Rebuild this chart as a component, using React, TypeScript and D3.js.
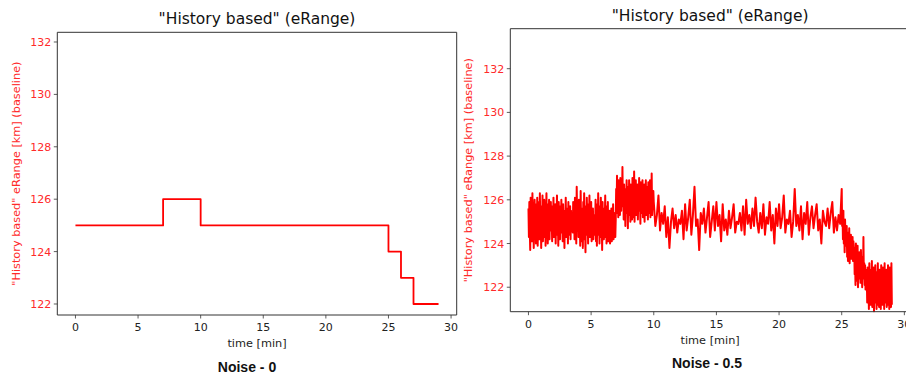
import React from "react";
import * as d3 from "d3";

// ---------- data ----------
const titleText = '"History based" (eRange)';
const yLabelText = '"History based" eRange [km] (baseline)';
const xLabelText = "time [min]";
const captions = ["Noise - 0", "Noise - 0.5"];
const xTicks = [0, 5, 10, 15, 20, 25, 30];
const yTicks = [122, 124, 126, 128, 130, 132];

// step series (noise 0)
const stepTimes = [0, 7, 10, 25, 26, 27, 29];
const stepValues = [125, 126, 125, 124, 123, 122, 122];

// noisy series (noise 0.5), segments [start, end] with hand-read values
const segA = [
  125.6, 124.3, 125.9, 124.6, 123.7, 126.1, 124.9, 125.3, 124.1, 126.3,
  124.5, 125.7, 123.8, 125.2, 126.0, 124.4, 125.5, 124.0, 125.8, 124.7,
  126.1, 123.9, 125.1, 124.6, 125.9, 124.2, 126.3, 124.8, 125.4, 123.8,
  125.7, 124.5, 126.2, 124.1, 125.3, 124.9, 126.0, 124.3, 125.6, 123.9,
  125.1, 126.3, 124.4, 125.8, 124.0, 125.4, 124.7, 126.0, 124.2, 125.5,
  124.8, 125.9, 124.6, 125.2, 124.1, 125.7, 124.5, 126.1, 124.3, 125.0,
  124.7, 125.8, 124.0, 125.6, 124.9, 126.2, 124.4, 125.3, 123.9, 125.9,
  124.6, 125.1, 124.2, 125.7, 124.8, 126.0, 124.5, 125.4, 124.1, 125.8,
  124.9, 125.5, 123.8, 125.2, 124.6, 126.1, 124.3, 125.6, 124.7, 125.3,
  124.0, 125.9, 124.4, 125.0, 124.8, 125.7, 124.2, 125.5, 124.6, 125.2,
];
const segB = [
  125.2, 124.5, 125.9, 124.8, 125.5, 124.2, 126.1, 124.9, 125.4, 124.0,
  126.6, 125.1, 124.6, 125.8, 124.3, 126.0, 124.7, 125.3, 123.9, 126.4,
  124.8, 125.6, 124.1, 125.2, 123.8, 125.9, 124.5, 126.3, 124.2, 125.0,
  123.6, 125.7, 124.4, 126.1, 124.9, 125.3, 124.0, 125.8, 124.6, 126.2,
  124.3, 125.5, 124.8, 125.9, 124.1, 125.4, 124.7, 125.6, 124.2, 125.1,
  124.4, 125.3, 124.6, 126.0, 124.1, 125.5, 123.9, 125.8, 124.7, 126.3,
  124.4, 125.2, 124.0, 125.7, 124.8, 126.1, 124.3, 125.4, 123.7, 125.9,
  124.5, 125.0, 124.2, 125.6, 124.9, 126.2, 124.3, 125.3, 124.0, 125.7,
  124.6, 125.9, 124.1, 125.2, 124.4, 125.5, 124.0, 125.1, 124.3, 125.6,
  124.1, 125.3, 124.5, 125.8, 124.2, 125.0, 124.6, 125.4, 124.3, 125.1,
];
const segC = [
  126.5, 125.4, 127.1, 125.8, 126.6, 125.2, 126.9, 125.6, 126.3, 125.3,
  127.0, 126.1, 125.5, 126.8, 125.9, 127.5, 125.7, 126.4, 125.1, 126.7,
  125.8, 126.2, 124.8, 126.5, 125.4, 126.9, 125.6, 126.1, 124.7, 126.6,
  125.3, 126.9, 125.8, 126.3, 125.0, 126.7, 125.5, 126.2, 125.1, 127.0,
  125.7, 126.4, 125.2, 127.3, 125.0, 126.6, 125.6, 126.9, 125.3, 126.2,
  125.8, 126.7, 125.1, 126.4, 125.5, 127.0, 125.9, 126.3, 124.9, 126.8,
  125.4, 126.5, 125.7, 126.9, 125.2, 126.1, 125.6, 126.7, 125.0, 126.4,
  125.8, 126.9, 125.3, 126.2, 125.5, 126.6, 125.1, 126.8, 125.7, 126.3,
  125.4, 126.9, 125.2, 126.5, 125.6, 127.2, 125.3, 126.0, 125.8, 126.4,
];
const segD = [
  125.9, 124.8, 125.3, 126.2, 124.6, 125.4, 124.9, 125.7,
  124.3, 125.2, 123.8, 125.0, 125.6, 124.7, 125.3, 124.5,
  125.1, 124.9, 125.5, 124.2, 125.8, 124.6, 125.2, 126.0,
  124.4, 125.3, 126.6, 124.8, 125.1, 123.7, 125.4, 124.9,
  125.6, 124.5, 125.2, 125.9, 124.3, 125.0, 125.7, 124.6,
  125.9, 124.8, 125.3, 124.1, 125.8, 124.6, 125.1, 124.4,
  125.5, 124.7, 125.2, 125.8, 124.5, 125.0, 124.9, 125.4,
  124.6, 125.7, 124.4, 126.0, 124.9, 125.3, 124.7, 125.6,
  124.8, 126.1, 125.0, 124.5, 125.4, 124.7, 125.8, 124.4,
  125.2, 124.9, 125.9, 124.6, 125.3, 124.0, 125.6, 124.8,
  125.8, 124.7, 125.2, 126.2, 124.5, 125.1, 124.9, 125.5,
  124.3, 125.0, 126.5, 124.8, 125.3, 124.6, 125.7, 124.2,
  125.4, 124.9, 125.9, 124.4, 125.2, 125.7, 124.7, 125.3,
  125.8, 124.6, 125.1, 124.0, 125.5, 125.0, 124.8, 125.6,
  124.7, 125.4, 125.9, 124.5, 125.2, 124.6, 125.3, 124.9,
];
const segE = [
  126.5, 124.8, 125.2, 124.2, 125.5, 124.0, 124.9, 123.6, 125.1, 124.3,
  124.6, 123.9, 124.8, 123.4, 124.5, 123.2, 124.3, 123.7, 124.7, 123.1,
  124.2, 123.5, 124.4, 123.3, 124.0, 123.6, 124.3, 123.2, 124.1, 123.8,
];
const segF = [
  123.8, 122.6, 123.3, 122.1, 124.0, 122.8, 123.5, 122.3, 123.9, 122.0,
  123.2, 122.7, 123.6, 122.4, 123.1, 122.2, 123.7, 122.9, 123.4, 122.0,
  123.3, 122.5, 124.3, 122.4, 123.1, 122.1, 123.0, 121.9, 122.8, 122.3,
];
const segG = [
  122.6, 121.3, 122.9, 121.6, 122.2, 121.0, 123.1, 121.8, 122.5, 121.2,
  122.8, 121.5, 123.2, 121.1, 122.4, 121.7, 122.9, 120.9, 122.3, 121.6,
  123.0, 121.3, 122.7, 121.0, 122.2, 121.8, 123.1, 121.2, 122.5, 121.1,
  122.8, 121.4, 122.3, 121.0, 123.0, 121.7, 122.6, 121.2, 122.9, 121.5,
  122.1, 121.0, 123.1, 121.6, 122.4, 121.3, 122.8, 121.1, 122.2, 121.7,
  123.0, 121.2, 122.6, 121.0, 122.9, 121.4, 122.3, 121.1, 123.1, 121.2,
];
const segStarts = [0, 3.5, 7, 10, 25, 26, 27];
const segEnds = [3.5, 7, 10, 25, 26, 27, 29];
const segValues = [segA, segB, segC, segD, segE, segF, segG];

type Pt = { t: number; v: number };

function buildNoisy(): Pt[] {
  const pts: Pt[] = [];
  segValues.forEach((vals, s) => {
    const last = s === segValues.length - 1;
    const n = last ? vals.length - 1 : vals.length;
    vals.forEach((v, i) => {
      pts.push({ t: segStarts[s] + (i * (segEnds[s] - segStarts[s])) / n, v });
    });
  });
  return pts;
}

const RED = "#ff0000";
const TICKRED = "#ff2a2a";
const FONT = "DejaVu Sans, sans-serif";

type PanelProps = {
  left: number; right: number; top: number; bottom: number;
  yDomain: [number, number];
  data: Pt[];
  step: boolean;
  titleY: number; yLabelX: number; xLabelY: number;
  caption: string; captionX: number; captionY: number;
  showRightSpine: boolean;
};

function Panel(p: PanelProps) {
  const x = d3.scaleLinear().domain([-1.45, 30.45]).range([p.left, p.right]);
  const y = d3.scaleLinear().domain(p.yDomain).range([p.bottom, p.top]);
  const line = d3
    .line<Pt>()
    .x((d) => x(d.t))
    .y((d) => y(d.v))
    .curve(p.step ? d3.curveStepAfter : d3.curveLinear);
  const cx = (p.left + p.right) / 2;
  const cy = (p.top + p.bottom) / 2;
  const spine = "#333";
  return (
    <g>
      <path d={line(p.data) || ""} fill="none" stroke={RED} strokeWidth={p.step ? 1.8 : 2} strokeLinejoin="round" />
      {/* spines */}
      <line x1={p.left} x2={p.left} y1={p.top} y2={p.bottom} stroke={spine} strokeWidth={1} />
      <line x1={p.left} x2={p.right} y1={p.bottom} y2={p.bottom} stroke={spine} strokeWidth={1} />
      <line x1={p.left} x2={p.right} y1={p.top} y2={p.top} stroke={spine} strokeWidth={1} />
      {p.showRightSpine && <line x1={p.right} x2={p.right} y1={p.top} y2={p.bottom} stroke={spine} strokeWidth={1} />}
      {/* x ticks */}
      {xTicks.map((t) => (
        <g key={"x" + t}>
          <line x1={x(t)} x2={x(t)} y1={p.bottom} y2={p.bottom + 3.5} stroke={spine} strokeWidth={0.8} />
          <text x={x(t)} y={p.bottom + 16} textAnchor="middle" fontFamily={FONT} fontSize={11} fill="#222">{t}</text>
        </g>
      ))}
      {/* y ticks */}
      {yTicks.map((t) => (
        <g key={"y" + t}>
          <line x1={p.left - 3.5} x2={p.left} y1={y(t)} y2={y(t)} stroke={spine} strokeWidth={0.8} />
          <text x={p.left - 6} y={y(t) + 4} textAnchor="end" fontFamily={FONT} fontSize={11} fill={TICKRED}>{t}</text>
        </g>
      ))}
      <text x={cx} y={p.titleY} textAnchor="middle" fontFamily={FONT} fontSize={15.5} fill="#111">{titleText}</text>
      <text x={cx} y={p.xLabelY} textAnchor="middle" fontFamily={FONT} fontSize={11.3} fill="#222">{xLabelText}</text>
      <text transform={`translate(${p.yLabelX},${cy}) rotate(-90)`} textAnchor="middle" fontFamily={FONT} fontSize={11.3} fill={TICKRED}>{yLabelText}</text>
      <text x={p.captionX} y={p.captionY} textAnchor="middle" fontFamily="Liberation Sans, Arial, sans-serif" fontWeight="bold" fontSize={14} fill="#111">{p.caption}</text>
    </g>
  );
}

export default function App() {
  const stepData: Pt[] = stepTimes.map((t, i) => ({ t, v: stepValues[i] }));
  const noisy = buildNoisy();
  return (
    <svg width={906} height={374} style={{ position: "absolute", left: 0, top: 0, background: "#fff" }}>
      <rect x={0} y={0} width={906} height={374} fill="#fff" />
      <Panel left={57.3} right={456.7} top={32.3} bottom={315} yDomain={[121.58, 132.37]} data={stepData} step={true}
        titleY={23.5} yLabelX={20} xLabelY={347} caption={captions[0]} captionX={247} captionY={372} showRightSpine={true} />
      <Panel left={510.3} right={910} top={28.7} bottom={311.7} yDomain={[120.88, 133.83]} data={noisy} step={false}
        titleY={20.5} yLabelX={472} xLabelY={344} caption={captions[1]} captionX={707} captionY={368} showRightSpine={true} />
    </svg>
  );
}
